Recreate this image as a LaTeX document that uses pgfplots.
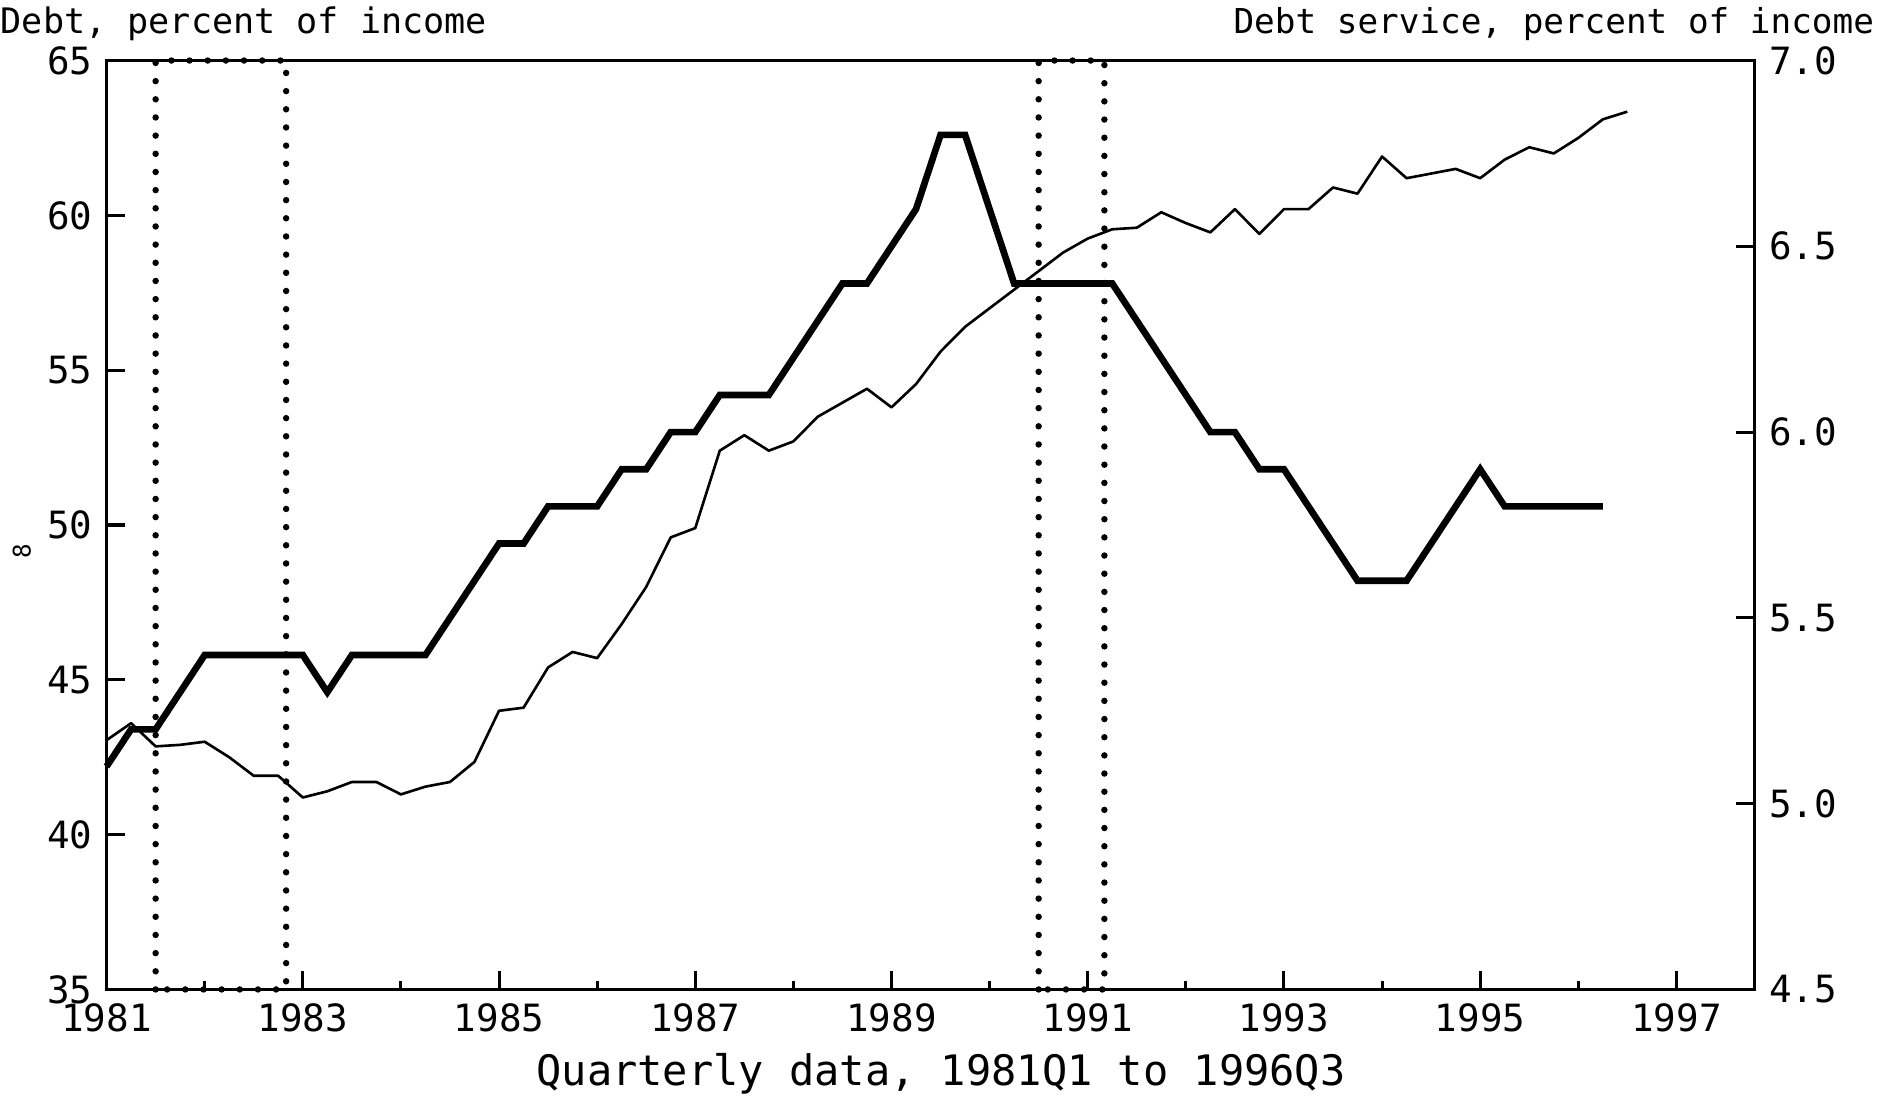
\documentclass[border=0pt]{standalone}
\usepackage{fontspec}
\setmainfont{DejaVu Sans Mono}
\usepackage{pgfplots}
\usepackage{pgfplotstable}
\pgfplotsset{compat=1.18}

\pgfplotstableread{
x y
1981.00 43.05
1981.25 43.6
1981.50 42.85
1981.75 42.9
1982.00 43.0
1982.25 42.5
1982.50 41.9
1982.75 41.9
1983.00 41.2
1983.25 41.4
1983.50 41.7
1983.75 41.7
1984.00 41.3
1984.25 41.55
1984.50 41.7
1984.75 42.35
1985.00 44.0
1985.25 44.1
1985.50 45.4
1985.75 45.9
1986.00 45.7
1986.25 46.8
1986.50 48.0
1986.75 49.6
1987.00 49.9
1987.25 52.4
1987.50 52.9
1987.75 52.4
1988.00 52.7
1988.25 53.5
1988.50 53.95
1988.75 54.4
1989.00 53.8
1989.25 54.55
1989.50 55.6
1989.75 56.4
1990.00 57.0
1990.25 57.6
1990.50 58.2
1990.75 58.8
1991.00 59.25
1991.25 59.55
1991.50 59.6
1991.75 60.1
1992.00 59.75
1992.25 59.45
1992.50 60.2
1992.75 59.4
1993.00 60.2
1993.25 60.2
1993.50 60.9
1993.75 60.7
1994.00 61.9
1994.25 61.2
1994.50 61.35
1994.75 61.5
1995.00 61.2
1995.25 61.8
1995.50 62.2
1995.75 62.0
1996.00 62.5
1996.25 63.1
1996.50 63.35
}\debtincome

\pgfplotstableread{
x y
1981.00 5.1
1981.25 5.2
1981.50 5.2
1981.75 5.3
1982.00 5.4
1982.25 5.4
1982.50 5.4
1982.75 5.4
1983.00 5.4
1983.25 5.3
1983.50 5.4
1983.75 5.4
1984.00 5.4
1984.25 5.4
1984.50 5.5
1984.75 5.6
1985.00 5.7
1985.25 5.7
1985.50 5.8
1985.75 5.8
1986.00 5.8
1986.25 5.9
1986.50 5.9
1986.75 6.0
1987.00 6.0
1987.25 6.1
1987.50 6.1
1987.75 6.1
1988.00 6.2
1988.25 6.3
1988.50 6.4
1988.75 6.4
1989.00 6.5
1989.25 6.6
1989.50 6.8
1989.75 6.8
1990.00 6.6
1990.25 6.4
1990.50 6.4
1990.75 6.4
1991.00 6.4
1991.25 6.4
1991.50 6.3
1991.75 6.2
1992.00 6.1
1992.25 6.0
1992.50 6.0
1992.75 5.9
1993.00 5.9
1993.25 5.8
1993.50 5.7
1993.75 5.6
1994.00 5.6
1994.25 5.6
1994.50 5.7
1994.75 5.8
1995.00 5.9
1995.25 5.8
1995.50 5.8
1995.75 5.8
1996.00 5.8
1996.25 5.8
}\debtservice

\begin{document}
\begin{tikzpicture}[x=1pt,y=1pt]
\path[use as bounding box] (-26.4,-27) rectangle (444,245.1);
\begin{axis}[
  at={(0,0)}, anchor=south west, scale only axis,
  width=408.3pt, height=230.1pt,
  xmin=1981, xmax=1997.8, ymin=35, ymax=65,
  axis line style={line width=0.75pt},
  xtick={1981,1983,...,1997}, minor xtick={1982,1984,...,1996},
  xtick pos=bottom, ytick pos=left,
  ytick={35,40,...,65},
  tick align=inside,
  major tick length=4.6pt, minor tick length=2.2pt,
  every tick/.style={line width=0.75pt, black},
  /pgf/number format/assume math mode=true,
  /pgf/number format/1000 sep={},
  ticklabel style={font=\fontsize{9.3}{10}\selectfont},
  clip=false,
]
\addplot[black, line width=0.65pt, line join=round] table {\debtincome};
\draw[black, line width=1.6pt, line cap=round, dash pattern=on 0pt off 4.5pt]
  (axis cs:1981.5,35) rectangle (axis cs:1982.83,65);
\draw[black, line width=1.6pt, line cap=round, dash pattern=on 0pt off 4.5pt]
  (axis cs:1990.5,35) rectangle (axis cs:1991.17,65);
\end{axis}
\begin{axis}[
  at={(0,0)}, anchor=south west, scale only axis,
  width=408.3pt, height=230.1pt,
  xmin=1981, xmax=1997.8, ymin=4.5, ymax=7.0,
  axis x line=none, axis y line*=right,
  axis line style={line width=0.75pt},
  ytick={4.5,5,5.5,6,6.5,7},
  tick align=inside,
  major tick length=4.6pt,
  every tick/.style={line width=0.75pt, black},
  /pgf/number format/assume math mode=true,
  yticklabel style={font=\fontsize{9.3}{10}\selectfont, /pgf/number format/.cd, fixed, fixed zerofill, precision=1},
  clip=false,
]
\addplot[black, line width=1.65pt, line join=miter] table {\debtservice};
\end{axis}
\node[anchor=base west, inner sep=0, font=\fontsize{8.7}{10}\selectfont] at (-26.4,236.7) {Debt, percent of income};
\node[anchor=base east, inner sep=0, font=\fontsize{8.5}{10}\selectfont] at (438,236.7) {Debt service, percent of income};
\node[anchor=base, inner sep=0, font=\fontsize{10.4}{12}\selectfont] at (206.7,-23.7) {Quarterly data, 1981Q1 to 1996Q3};
\node[rotate=90, inner sep=0, font=\fontsize{6}{7}\selectfont] at (-21,108.6) {8};
\end{tikzpicture}
\end{document}
